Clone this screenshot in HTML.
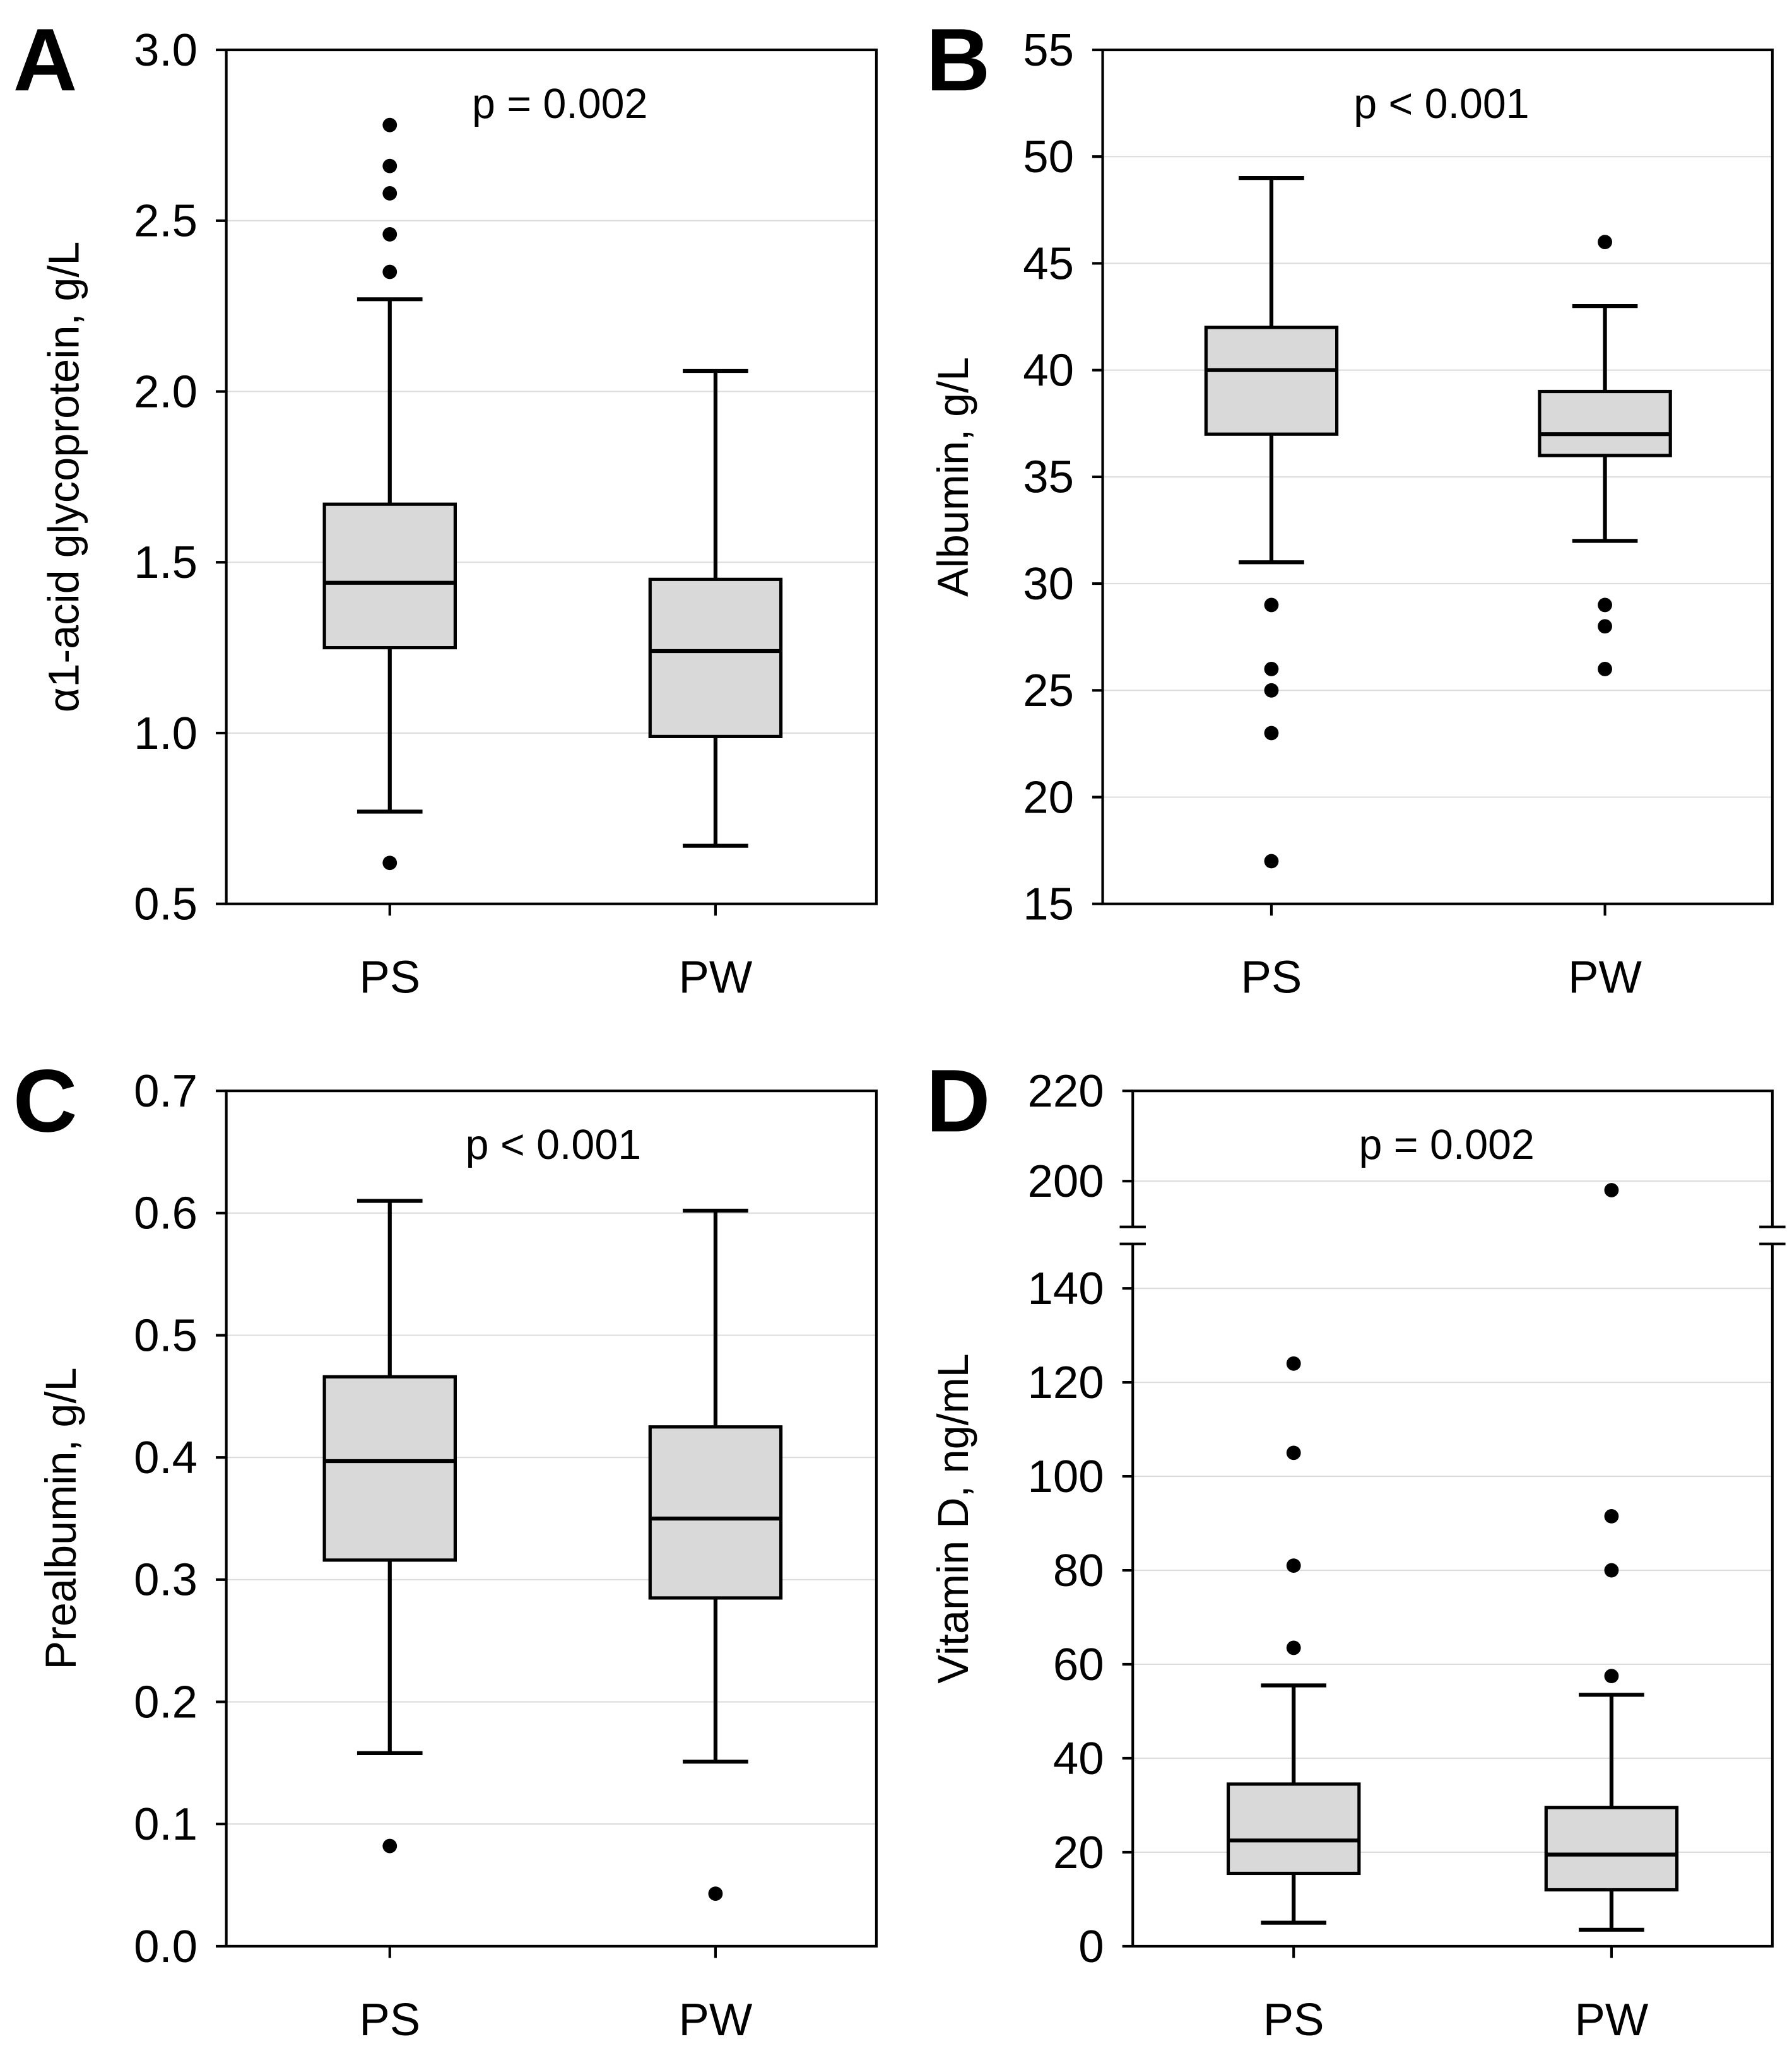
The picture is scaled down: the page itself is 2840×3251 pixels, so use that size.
<!DOCTYPE html>
<html><head><meta charset="utf-8"><style>
html,body{margin:0;padding:0;background:#fff}
svg{display:block}
text{font-family:"Liberation Sans",sans-serif;fill:#000}
</style></head><body>
<svg id="fig" width="2840" height="3251" viewBox="0 0 1370 1568" xmlns="http://www.w3.org/2000/svg"></svg>
<script>
const categories = ["PS","PW"];
// panel A: alpha1-acid glycoprotein
const aTicks = [0.5,1.0,1.5,2.0,2.5,3.0];
const aLow = [0.77,0.67], aQ1 = [1.25,0.99], aMed = [1.44,1.24], aQ3 = [1.67,1.45], aHigh = [2.27,2.06];
const aOut = [[2.78,2.66,2.58,2.46,2.35,0.62],[]];
// panel B: albumin
const bTicks = [15,20,25,30,35,40,45,50,55];
const bLow = [31,32], bQ1 = [37,36], bMed = [40,37], bQ3 = [42,39], bHigh = [49,43];
const bOut = [[29,26,25,23,17],[46,29,28,26]];
// panel C: prealbumin
const cTicks = [0.0,0.1,0.2,0.3,0.4,0.5,0.6,0.7];
const cLow = [0.158,0.151], cQ1 = [0.316,0.285], cMed = [0.397,0.35], cQ3 = [0.466,0.425], cHigh = [0.61,0.602];
const cOut = [[0.082],[0.043]];
// panel D: vitamin D (broken axis)
const dTicksLow = [0,20,40,60,80,100,120,140];
const dTicksHigh = [200,220];
const dLow = [5,3.5], dQ1 = [15.5,12], dMed = [22.5,19.5], dQ3 = [34.5,29.5], dHigh = [55.5,53.5];
const dOut = [[124,105,81,63.5],[198,91.5,80,57.5]];

const NS="http://www.w3.org/2000/svg";
const svg=document.getElementById('fig');
function mk(tag,attrs,parent){const e=document.createElementNS(NS,tag);for(const k in attrs)e.setAttribute(k,attrs[k]);(parent||svg).appendChild(e);return e;}
function txt(s,x,y,size,anchor,parent,extra){const t=mk('text',Object.assign({x:x,y:y,'font-size':size,'text-anchor':anchor||'middle'},extra||{}),parent);t.textContent=s;return t;}

function panel(o){
  const g=mk('g',{});
  
  
  const L=o.L,R=o.R,T=o.T,B=o.B;
  const y=o.y;
  o.ticks.forEach((v,i)=>{
    const yy=y(v);
    if(yy>T+1&&yy<B-1){const gl=mk('line',{x1:L,x2:R,y1:yy,y2:yy,stroke:'#dcdcdc','stroke-width':1},g);
      }
    mk('line',{x1:L-8,x2:L,y1:yy,y2:yy,stroke:'#000','stroke-width':2},g);
    const t=txt(o.fmt(v),L-22,yy+12,35,'end',g);
    
  });
  if(o.brk){
    const b1=o.brk[0],b2=o.brk[1];
    mk('path',{d:`M${L},${b1} L${L},${T} L${R},${T} L${R},${b1}`,fill:'none',stroke:'#000','stroke-width':2},g);
    mk('path',{d:`M${L},${b2} L${L},${B} L${R},${B} L${R},${b2}`,fill:'none',stroke:'#000','stroke-width':2},g);
    [L,R].forEach(x=>{mk('line',{x1:x-10,x2:x+10,y1:b1,y2:b1,stroke:'#000','stroke-width':2},g);mk('line',{x1:x-10,x2:x+10,y1:b2,y2:b2,stroke:'#000','stroke-width':2},g);});
  } else {
    mk('rect',{x:L,y:T,width:R-L,height:B-T,fill:'none',stroke:'#000','stroke-width':2},g);
  }
  categories.forEach((c,i)=>{
    const cx=o.xs[i];
    const bg=mk('g',{},g);
    
    
    mk('line',{x1:cx,x2:cx,y1:B,y2:B+9,stroke:'#000','stroke-width':2},bg);
    mk('line',{x1:cx,x2:cx,y1:y(o.low[i]),y2:y(o.high[i]),stroke:'#000','stroke-width':3},bg);
    mk('line',{x1:cx-25,x2:cx+25,y1:y(o.low[i]),y2:y(o.low[i]),stroke:'#000','stroke-width':3},bg);
    mk('line',{x1:cx-25,x2:cx+25,y1:y(o.high[i]),y2:y(o.high[i]),stroke:'#000','stroke-width':3},bg);
    mk('rect',{x:cx-50,y:y(o.q3[i]),width:100,height:y(o.q1[i])-y(o.q3[i]),fill:'#d9d9d9',stroke:'#000','stroke-width':2.5},bg);
    mk('line',{x1:cx-50,x2:cx+50,y1:y(o.med[i]),y2:y(o.med[i]),stroke:'#000','stroke-width':3},bg);
    o.out[i].forEach(v=>{const p=mk('circle',{cx:cx,cy:y(v),r:5.5,fill:'#000'},bg);
      });
    const t=txt(c,cx,B+68,35,'middle',g);
    
  });
  const pt=txt(o.p,o.px,T+52,32,'middle',g);
  
  const lt=txt(o.letter,o.lx,T+31,68,'start',g,{'font-weight':'bold'});
  
  const yt=txt(o.title,0,0,33,'middle',g,{transform:`translate(${o.tx},${(T+B)/2}) rotate(-90)`});
  
}
function lin(d0,d1,p0,p1){return v=>p0+(v-d0)*(p1-p0)/(d1-d0);}

panel({name:'panel-a',L:173,R:670,T:38,B:691,y:lin(0.5,3.0,691,38),ticks:aTicks,fmt:v=>v.toFixed(1),
  xs:[298,547],low:aLow,q1:aQ1,med:aMed,q3:aQ3,high:aHigh,out:aOut,p:'p = 0.002',px:428,letter:'A',lx:10,
  title:'\u03B11-acid glycoprotein, g/L',tx:60});
panel({name:'panel-b',L:843,R:1355,T:38,B:691,y:lin(15,55,691,38),ticks:bTicks,fmt:v=>String(v),
  xs:[972,1227],low:bLow,q1:bQ1,med:bMed,q3:bQ3,high:bHigh,out:bOut,p:'p < 0.001',px:1102,letter:'B',lx:708,
  title:'Albumin, g/L',tx:740});
panel({name:'panel-c',L:173,R:670,T:834,B:1488,y:lin(0,0.7,1488,834),ticks:cTicks,fmt:v=>v.toFixed(1),
  xs:[298,547],low:cLow,q1:cQ1,med:cMed,q3:cQ3,high:cHigh,out:cOut,p:'p < 0.001',px:423,letter:'C',lx:10,
  title:'Prealbumin, g/L',tx:58});
const yLowD=lin(0,140,1488,985), yHighD=lin(200,220,903,834);
panel({name:'panel-d',L:866,R:1355,T:834,B:1488,y:v=>v>170?yHighD(v):yLowD(v),ticks:dTicksLow.concat(dTicksHigh),fmt:v=>String(v),
  xs:[989,1232],low:dLow,q1:dQ1,med:dMed,q3:dQ3,high:dHigh,out:dOut,p:'p = 0.002',px:1106,letter:'D',lx:708,
  title:'Vitamin D, ng/mL',tx:740,brk:[938,951]});
</script>
</body></html>
